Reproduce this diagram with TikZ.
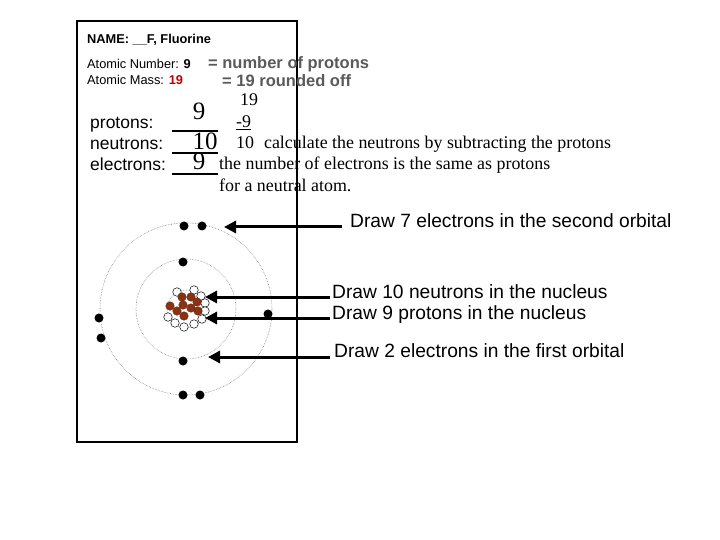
\documentclass[tikz,border=0pt]{standalone}
\usepackage{fontspec}
\setmainfont{Liberation Serif}
\setsansfont{Liberation Sans}
\usetikzlibrary{arrows.meta}
\definecolor{brn}{RGB}{140,50,20}
\definecolor{gr}{RGB}{90,90,90}
\begin{document}
\begin{tikzpicture}[x=1pt,y=-1pt,
 sf/.style={anchor=base west,inner sep=0,font=\sffamily\fontsize{19.2}{19}\selectfont},
 sm/.style={anchor=base west,inner sep=0,font=\sffamily\fontsize{12.8}{13}\selectfont},
 se/.style={anchor=base west,inner sep=0,font=\fontsize{17.9}{17}\selectfont},
 big/.style={anchor=base,inner sep=0,font=\fontsize{25}{25}\selectfont},
 orb/.style={gray,densely dotted,line width=0.6pt},
 el/.style={circle,fill=black,inner sep=0,minimum size=9pt},
 pr/.style={circle,fill=brn,draw=brn!70!black,inner sep=0,minimum size=8.5pt},
 nu/.style={circle,fill=white,draw=black,line width=0.5pt,inner sep=0,minimum size=8.5pt},
 arr/.style={line width=3pt,-{Triangle[length=12pt,width=12pt]}}]
\useasboundingbox (0,0) rectangle (720,540);
\draw[line width=2.5pt] (77,21) rectangle (297,442);
\node[sm,font=\sffamily\bfseries\fontsize{12.8}{13}\selectfont] (name) at (87,44) {NAME: \_\_F, Fluorine};
\node[sm] (an) at (87,69) {Atomic Number: \textbf{9}};
\node[sm] (am) at (87,85) {Atomic Mass: \textcolor{red!75!black}{\textbf{19}}};
\node[sf,font=\sffamily\bfseries\fontsize{16.5}{16}\selectfont,text=gr] (np) at (208,69) {= number of protons};
\node[sf,font=\sffamily\bfseries\fontsize{16.5}{16}\selectfont,text=gr] (ro) at (222,87) {= 19 rounded off};
\node[se] (n19) at (240,106) {19};
\node[sf,font=\sffamily\fontsize{17.5}{17}\selectfont] (pl) at (90,129) {protons:};
\node[sf,font=\sffamily\fontsize{17.5}{17}\selectfont] (nl) at (90,150) {neutrons:};
\node[sf,font=\sffamily\fontsize{17.5}{17}\selectfont] (el) at (90,171) {electrons:};
\node[big] (p9) at (199,120) {9};
\node[big] (n10) at (205,150) {10};
\node[big] (e9) at (199,170) {9};
\draw[line width=1.5pt] (172,131) -- (218,131) (172,153) -- (218,153) (172,174) -- (218,174);
\node[se] (m9) at (236,128) {\underline{-9}};
\node[se] (calc) at (236,149) {10\hspace{10pt}calculate the neutrons by subtracting the protons};
\node[se] (same) at (219,170) {the number of electrons is the same as protons};
\node[se] (neut) at (219,192) {for a neutral atom.};
\coordinate (c) at (186,309);
\draw[orb] (c) circle (86);
\draw[orb] (c) circle (50);
\draw[orb] (c) circle (19);
\foreach \p/\q [count=\i] in {194/290,201/296,205/303,205/311,202/319,194/324,184/327,175/323,168/317,177/292}
 \node[nu] (nu\i) at (\p,\q) {};
\foreach \p/\q [count=\i] in {182/297,191/297,170/306,177/311,183/305,191/308,197/302,198/311,184/316}
 \node[pr] (pr\i) at (\p,\q) {};
\foreach \p/\q [count=\i] in {184/226,202/226,183/262,183/361,268/314,99/318,101/338,183/395,200/395}
 \node[el] (e\i) at (\p,\q) {};
\node[sf] (t1) at (350,227) {Draw 7 electrons in the second orbital};
\node[sf] (t2) at (332,298) {Draw 10 neutrons in the nucleus};
\node[sf] (t3) at (332,319) {Draw 9 protons in the nucleus};
\node[sf] (t4) at (334,357) {Draw 2 electrons in the first orbital};
\coordinate (a1) at (342,227); \coordinate (b1) at (224,227);
\coordinate (a2) at (330,297); \coordinate (b2) at (205,297);
\coordinate (a3) at (330,318); \coordinate (b3) at (205,318);
\coordinate (a4) at (330,357); \coordinate (b4) at (208,357);
\foreach \i in {1,...,4} \draw[arr] (a\i) -- (b\i);
\end{tikzpicture}
\end{document}
